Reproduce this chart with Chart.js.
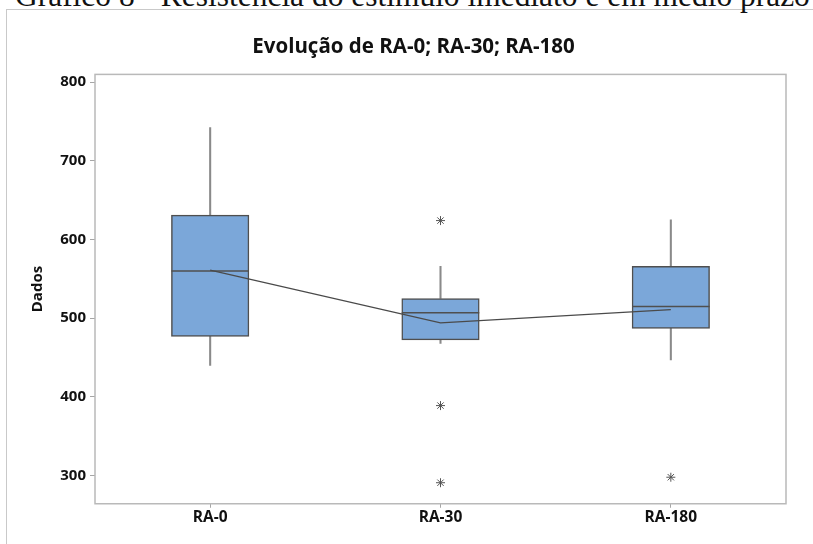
<!DOCTYPE html>
<html lang="pt-BR">
<head>
<meta charset="utf-8">
<title>Evolução de RA-0; RA-30; RA-180</title>
<script src="https://cdn.jsdelivr.net/npm/chart.js@4.4.1/dist/chart.umd.min.js"></script>
<style>
    html, body { margin: 0; padding: 0; background: #fff; overflow: hidden; width: 813px; height: 544px; }
    #cabecalho {
        position: absolute; left: 15px; top: -15px;
        font-family: "Liberation Serif", "Times New Roman", serif;
        line-height: 1; white-space: nowrap; color: #111; font-size: 26px;
    }
    #moldura {
        position: absolute; left: 6px; top: 9px; width: 900px; height: 600px;
        border-left: 1px solid #c9c9c9; border-top: 1px solid #c9c9c9;
    }
    #grafico { position: absolute; left: 0; top: 0; }
</style>
</head>
<body>
<div id="moldura"></div>
<div id="cabecalho">Gráfico 8 - Resistência do estímulo imediato e em médio prazo</div>
<canvas id="grafico" width="827" height="544"></canvas>
<script>
// dados (boxplot do Minitab)
const categorias = ["RA-0", "RA-30", "RA-180"];
const bigodeInferior = [440, 468, 447];
const quartil1 = [477, 472.5, 487];
const mediana = [560, 507, 515];
const quartil3 = [631, 525, 566];
const bigodeSuperior = [742, 566, 625];
const medias = [561, 494, 511];
const outliersRA30 = [624, 389, 291];
const outliersRA180 = [298];
const ticksY = [300, 400, 500, 600, 700, 800];

// ajusta o cabeçalho cortado no topo da página
const cab = document.getElementById("cabecalho");
let tam = 26;
tam = tam * 795 / cab.offsetWidth;
cab.style.fontSize = tam + "px";
cab.style.top = (6.5 - 0.8375 * tam) + "px";

const corCaixa = "#7ba7d9";
const corBorda = "#4f4f4f";
const corBigode = "#8a8a8a";
const corTexto = "#111";
const fonteTexto = "'Open Sans', 'Noto Sans', sans-serif";

// moldura do gráfico (área de plotagem)
const molduraPlot = {
    id: "molduraPlot",
    beforeDatasetsDraw(chart) {
        const { ctx, chartArea } = chart;
        ctx.save();
        ctx.strokeStyle = "#b9b9b9";
        ctx.lineWidth = 1.5;
        ctx.strokeRect(chartArea.left, chartArea.top, chartArea.right - chartArea.left, chartArea.bottom - chartArea.top);
        ctx.restore();
    }
};

const pontosOutliers = [
    ...outliersRA30.map(v => ({ x: "RA-30", y: v })),
    ...outliersRA180.map(v => ({ x: "RA-180", y: v }))
];

new Chart(document.getElementById("grafico"), {
    type: "bar",
    data: {
        labels: categorias,
        datasets: [
            {
                type: "line",
                label: "Média",
                data: medias,
                borderColor: "#4a4a4a",
                borderWidth: 1.2,
                pointRadius: 0,
                tension: 0,
                order: 0
            },
            {
                type: "line",
                label: "Outliers",
                data: pontosOutliers,
                showLine: false,
                pointStyle: "star",
                pointRadius: 4.5,
                pointBorderColor: "#555",
                pointBorderWidth: 1,
                order: 1
            },
            {
                type: "line",
                label: "Mediana",
                data: mediana,
                showLine: false,
                pointStyle: "line",
                pointRadius: 38.75,
                pointBorderColor: corBorda,
                pointBorderWidth: 1.5,
                order: 2
            },
            {
                label: "Caixa",
                data: categorias.map((c, i) => [quartil1[i], quartil3[i]]),
                backgroundColor: corCaixa,
                borderColor: corBorda,
                borderWidth: 1.5,
                borderSkipped: false,
                barThickness: 77.5,
                grouped: false,
                order: 3
            },
            {
                label: "Bigode inferior",
                data: categorias.map((c, i) => [bigodeInferior[i], quartil1[i]]),
                backgroundColor: corBigode,
                barThickness: 1.4,
                grouped: false,
                order: 4
            },
            {
                label: "Bigode superior",
                data: categorias.map((c, i) => [quartil3[i], bigodeSuperior[i]]),
                backgroundColor: corBigode,
                barThickness: 1.4,
                grouped: false,
                order: 4
            }
        ]
    },
    options: {
        responsive: false,
        animation: false,
        // padding simétrico para o título ficar centrado na moldura
        layout: { padding: { left: 41, right: 41, top: 0, bottom: 0 } },
        plugins: {
            legend: { display: false },
            tooltip: { enabled: false },
            title: {
                display: true,
                text: "Evolução de RA-0; RA-30; RA-180",
                color: corTexto,
                font: { family: fonteTexto, size: 20.5, weight: "bold" },
                padding: { top: 35, bottom: 14.8 }
            }
        },
        scales: {
            x: {
                offset: true,
                grid: { display: true, offset: false, drawOnChartArea: false, drawTicks: true, tickLength: 4, color: "#a6a6a6" },
                border: { display: false },
                ticks: { color: corTexto, padding: 1, font: { family: fonteTexto, size: 15.5, weight: "bold" } },
                afterFit(escala) { escala.height = 36.7; }
            },
            y: {
                min: 264.3,
                max: 809.7,
                grid: { display: true, drawOnChartArea: false, drawTicks: true, tickLength: 5, color: "#a6a6a6" },
                border: { display: false },
                ticks: { color: corTexto, padding: 4, font: { family: fonteTexto, size: 15, weight: "bold" } },
                afterBuildTicks(escala) { escala.ticks = ticksY.map(v => ({ value: v })); },
                afterFit(escala) { escala.width = 54; },
                title: {
                    display: true,
                    text: "Dados",
                    color: corTexto,
                    font: { family: fonteTexto, size: 15, weight: "bold" },
                    padding: { top: -12, bottom: 0 }
                }
            }
        }
    },
    plugins: [molduraPlot]
});
</script>
</body>
</html>
